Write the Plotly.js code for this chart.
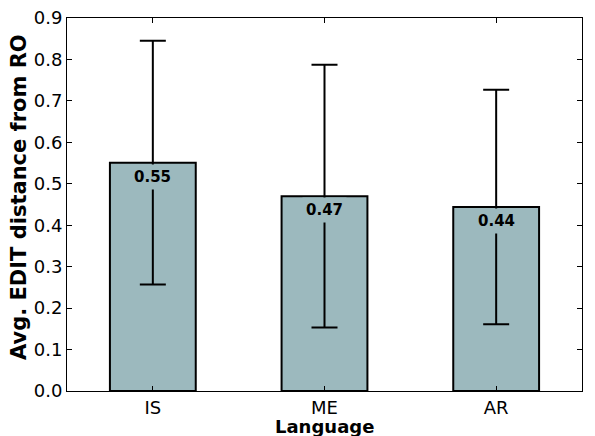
<!DOCTYPE html>
<html>
<head>
<meta charset="utf-8">
<script src="https://cdn.plot.ly/plotly-3.0.1.min.js"></script>
<style>html,body{margin:0;padding:0;background:#fff;}#chart{width:595px;height:436px;}</style>
</head>
<body>
<div id="chart"></div>
<script>
const categories = ["IS", "ME", "AR"];
const meanValues = [0.551, 0.470, 0.444];
const errorValues = [0.294, 0.317, 0.283];
const yTickValues = [0.0, 0.1, 0.2, 0.3, 0.4, 0.5, 0.6, 0.7, 0.8, 0.9];

const barColor = "#9cb9be";
const fontFam = "DejaVu Sans, sans-serif";

const trace = {
  type: "bar",
  x: categories,
  y: meanValues,
  width: 0.5,
  marker: {color: barColor, line: {color: "#000", width: 2}},
  error_y: {type: "data", array: errorValues, visible: true, color: "#000", thickness: 2, width: 13},
  hoverinfo: "none"
};

const labelAnns = categories.map((c, i) => ({
  x: c, y: meanValues[i], xref: "x", yref: "y",
  text: meanValues[i].toFixed(2),
  showarrow: false, yanchor: "top", yshift: -1,
  bgcolor: barColor, borderpad: 3,
  font: {family: fontFam, size: 15, color: "#000", weight: "bold"}
}));

const layout = {
  width: 595, height: 436,
  margin: {l: 67, r: 13, t: 18, b: 45},
  paper_bgcolor: "#fff", plot_bgcolor: "#fff",
  showlegend: false,
  font: {family: fontFam, size: 18, color: "#000"},
  xaxis: {
    type: "category", range: [-0.5, 2.5],
    showline: true, linecolor: "#000", linewidth: 1, mirror: "ticks",
    ticks: "inside", ticklen: 5, tickcolor: "#000",
    showgrid: false, zeroline: false,
    tickfont: {family: fontFam, size: 18, color: "#000"}
  },
  yaxis: {
    range: [0, 0.9], tickvals: yTickValues, ticktext: yTickValues.map(v => v.toFixed(1)),
    showline: true, linecolor: "#000", linewidth: 1, mirror: "ticks",
    ticks: "inside", ticklen: 5, tickcolor: "#000",
    showgrid: false, zeroline: false,
    tickfont: {family: fontFam, size: 18, color: "#000"}
  },
  annotations: labelAnns.concat([
    {text: "Language", xref: "paper", yref: "paper", x: 0.5, y: -0.094, yanchor: "middle", xanchor: "center",
     showarrow: false, font: {family: fontFam, size: 18, color: "#000", weight: "bold"}},
    {text: "Avg. EDIT distance from RO", xref: "paper", yref: "paper", x: 0, xshift: -48, y: 0.52,
     textangle: -90, xanchor: "center", yanchor: "middle", showarrow: false,
     font: {family: fontFam, size: 21, color: "#000", weight: "bold"}}
  ])
};

Plotly.newPlot("chart", [trace], layout, {staticPlot: true, displayModeBar: false});
</script>
</body>
</html>
